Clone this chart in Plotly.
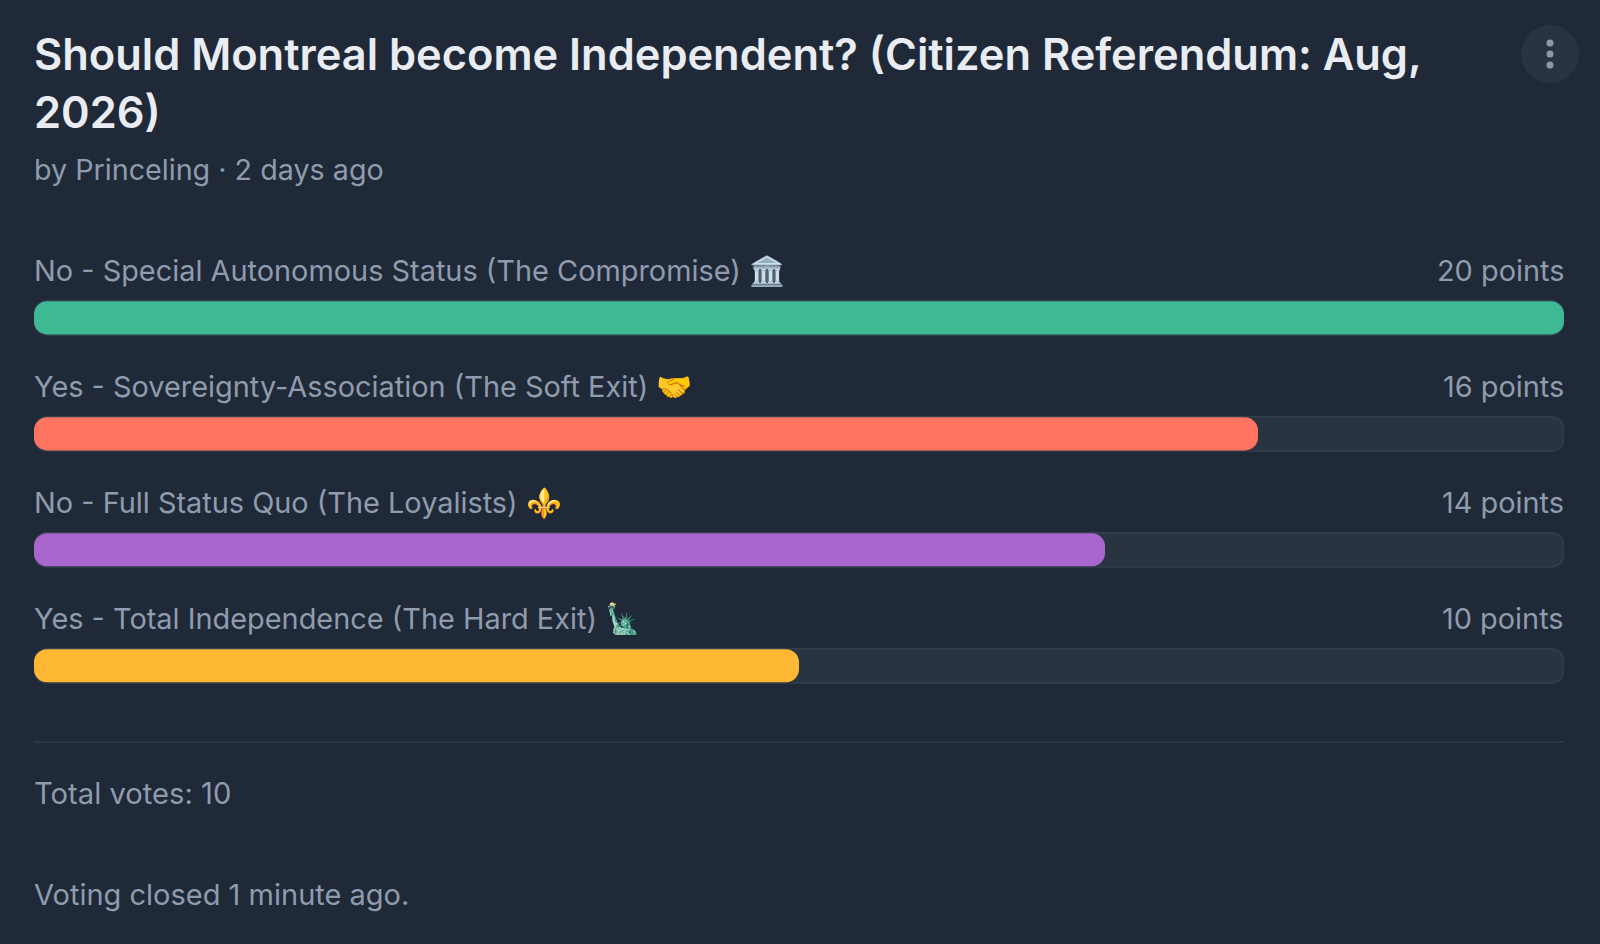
import plotly.graph_objects as go

W, H = 1600, 944
title_lines = ["Should Montreal become Independent? (Citizen Referendum: Aug,", "2026)"]
subtitle = "by Princeling · 2 days ago"
categories = [
    "No - Special Autonomous Status (The Compromise) 🏛️",
    "Yes - Sovereignty-Association (The Soft Exit) 🤝",
    "No - Full Status Quo (The Loyalists) ⚜️",
    "Yes - Total Independence (The Hard Exit) 🗽",
]
points = [20, 16, 14, 10]
colors = ["#3fb993", "#ff7361", "#a966cc", "#ffb833"]
total_votes = "Total votes: 10"
closed = "Voting closed 1 minute ago."
BG, TRACK, EDGE = "#1f2938", "#2a3440", "#343e4c"
MUTED, TITLE = "#909bae", "#e9edf3"
FONT = "Inter, Noto Sans, sans-serif"

fig = go.Figure()
n = len(categories)
fig.add_bar(y=categories, x=[max(points)] * n, base=[0] * n, orientation="h", width=0.295,
            marker=dict(color=TRACK, line=dict(color=EDGE, width=1.5)), hoverinfo="skip")
fig.add_bar(y=categories, x=points, base=[0] * n, orientation="h", width=0.285,
            marker=dict(color=colors, line=dict(width=0)))

def px(v): return v / W
def py(v): return 1 - v / H

def txt(x, y, s, size, color=MUTED, anchor="left", weight=400):
    fig.add_annotation(xref="paper", yref="paper", x=px(x), y=py(y), text=s, showarrow=False,
                       xanchor=anchor, yanchor="middle", align=anchor,
                       font=dict(family=FONT, size=size, color=color, weight=weight))

txt(31.5, 54, title_lines[0], 43.4, TITLE, weight=600)
txt(31.5, 112, title_lines[1], 43.4, TITLE, weight=600)
txt(31.5, 170, subtitle, 28.7)
for c, p in zip(categories, points):
    fig.add_annotation(xref="paper", yref="y", x=px(31.5), y=c, yshift=47, text=c, showarrow=False,
                       xanchor="left", yanchor="middle",
                       font=dict(family=FONT, size=28.9, color=MUTED))
    fig.add_annotation(xref="paper", yref="y", x=px(1566), y=c, yshift=47, text=f"{p} points", showarrow=False,
                       xanchor="right", yanchor="middle",
                       font=dict(family=FONT, size=28.9, color=MUTED))
txt(31.5, 793, total_votes, 29.2)
txt(31.5, 894, closed, 29)

shapes = [
    dict(type="line", xref="paper", yref="paper", x0=px(34), x1=px(1564), y0=py(742), y1=py(742),
         line=dict(color="#323c4a", width=1.5)),
    dict(type="circle", xref="paper", yref="paper", x0=px(1521), x1=px(1579), y0=py(25), y1=py(83),
         fillcolor="#2a3441", line=dict(width=0)),
]
for cy in (43, 54, 65):
    shapes.append(dict(type="circle", xref="paper", yref="paper", x0=px(1546.5), x1=px(1553.5),
                       y0=py(cy - 3.5), y1=py(cy + 3.5), fillcolor="#8d98ab", line=dict(width=0)))

fig.update_layout(
    width=W, height=H, margin=dict(l=0, r=0, t=0, b=0), autosize=False,
    paper_bgcolor=BG, plot_bgcolor=BG, barmode="overlay", barcornerradius=13,
    showlegend=False, shapes=shapes,
    xaxis=dict(domain=[px(34), px(1564)], range=[0, 20], visible=False, fixedrange=True),
    yaxis=dict(domain=[py(723.8), py(259.9)], range=[3.5, -0.5], visible=False, fixedrange=True),
)
fig.write_html("out.html", post_script="document.body.style.margin='0';",
               config=dict(displayModeBar=False))
